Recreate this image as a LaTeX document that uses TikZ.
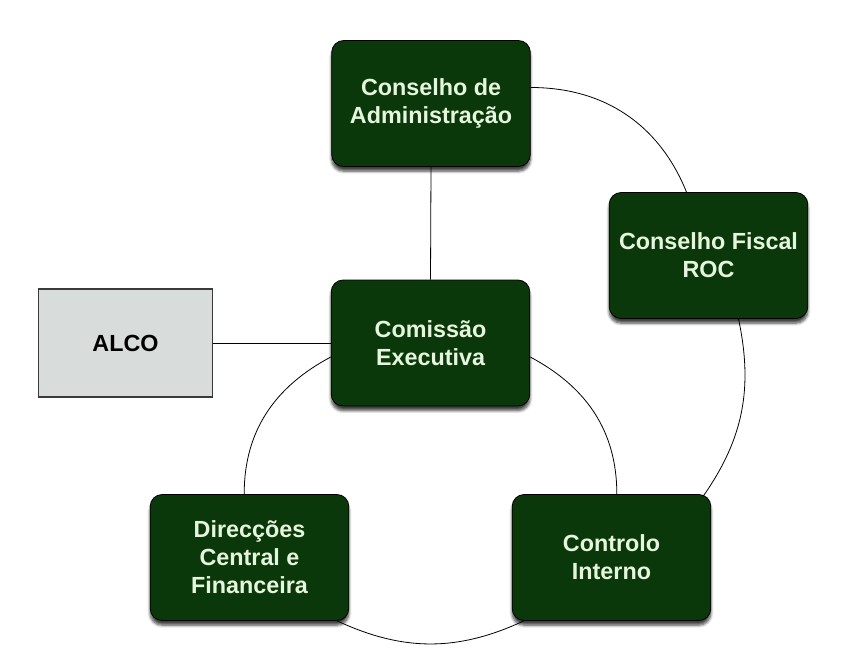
\documentclass[tikz,border=0pt]{standalone}
\usepackage{fontspec}
\setmainfont{Liberation Sans}
\usetikzlibrary{shadows.blur}
\definecolor{boxgreen}{HTML}{0B380B}
\definecolor{boxtext}{HTML}{E6F6DC}
\definecolor{alcofill}{HTML}{D8DCDB}
\definecolor{alcoborder}{HTML}{3A3A3A}
\tikzset{
  greenbox/.style={draw=black, line width=0.6pt, fill=boxgreen, rounded corners=9pt,
    minimum width=149pt, minimum height=94.5pt, align=center, text=boxtext,
    font=\fontsize{17.5}{21}\selectfont\bfseries, inner sep=0pt,
    blur shadow={shadow xshift=0pt, shadow yshift=-3.5pt, shadow blur steps=6, shadow opacity=75}},
  alcobox/.style={draw=alcoborder, line width=0.8pt, fill=alcofill,
    minimum width=130.5pt, minimum height=81pt, align=center, text=black,
    font=\fontsize{17.5}{21}\selectfont\bfseries, inner sep=0pt},
  link/.style={draw=black, line width=0.6pt}
}
\begin{document}
\begin{tikzpicture}[x=0.75pt,y=-0.75pt]
\useasboundingbox (0,0) rectangle (855,670);
% nodes
\node[greenbox] (ca) at (431,103.5) {Conselho de\\Administração};
\node[greenbox] (cf) at (708.5,255.5) {Conselho Fiscal\\ROC};
\node[greenbox] (ce) at (430.5,343) {Comissão\\Executiva};
\node[alcobox] (alco) at (125.5,343) {ALCO};
\node[greenbox] (dir) at (249.5,557.5) {Direcções\\Central e\\Financeira};
\node[greenbox] (ci) at (611.5,557.5) {Controlo\\Interno};
% links
\draw[link] (ca.south) -- (ce.north);
\draw[link] (alco.east) -- (ce.west);
\draw[link] ([yshift=12pt]ca.east) to[out=0,in=112] ([xshift=-16.5pt]cf.north);
\draw[link] ([xshift=22.5pt]cf.south) to[out=-78,in=55] ([xshift=-6pt,yshift=-1.5pt]ci.north east);
\draw[link] ([yshift=-10.5pt]ce.east) to[out=-28,in=90] ([xshift=4pt]ci.north);
\draw[link] ([yshift=-10.5pt]ce.west) to[out=208,in=90] ([xshift=-4pt]dir.north);
\draw[link] ([xshift=-9pt]dir.south east) to[out=-25,in=-155] ([xshift=9pt]ci.south west);
\end{tikzpicture}
\end{document}
